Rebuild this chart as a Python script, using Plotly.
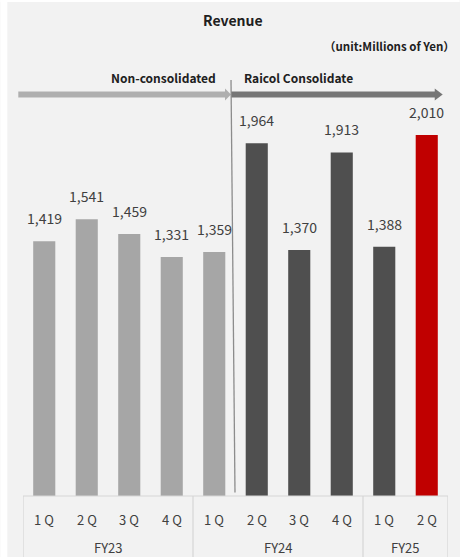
import plotly.graph_objects as go

quarters = ["1 Q", "2 Q", "3 Q", "4 Q", "1 Q", "2 Q", "3 Q", "4 Q", "1 Q", "2 Q"]
fiscal_years = ["FY23", "FY23", "FY23", "FY23", "FY24", "FY24", "FY24", "FY24", "FY25", "FY25"]
revenue = [1419, 1541, 1459, 1331, 1359, 1964, 1370, 1913, 1388, 2010]
bar_colors = ["#A6A6A6"] * 5 + ["#4F4F4F"] * 4 + ["#C00000"]
fy_groups = ["FY23", "FY24", "FY25"]

W, H = 460, 557
ML, MR, MT, MB = 22.7, W - 448.3, 83, 61.4
PW, PH = W - ML - MR, H - MT - MB

def px(x):
    return (x - ML) / PW

def py(y):
    return (H - MB - y) / PH

xs = list(range(len(revenue)))
labels = [f"{v:,}" for v in revenue]
FONT = "Noto Sans CJK JP"

fig = go.Figure()
fig.add_trace(go.Bar(
    x=xs, y=revenue, marker=dict(color=bar_colors, line=dict(width=0)),
    width=0.52, hoverinfo="skip",
))

shapes = []
shapes.append(dict(type="rect", xref="paper", yref="paper", x0=px(0), x1=px(7), y0=py(H), y1=py(0),
                   fillcolor="white", line=dict(width=0), layer="below"))
shapes.append(dict(type="rect", xref="paper", yref="paper", x0=px(0), x1=px(W), y0=py(2), y1=py(0),
                   fillcolor="white", line=dict(width=0), layer="below"))
tbl = "#D6D6D6"
shapes.append(dict(type="line", xref="x", yref="paper", x0=-0.5, x1=len(revenue) - 0.5, y0=0, y1=0,
                   line=dict(color=tbl, width=1.2)))
for b in [-0.5, 3.5, 7.5, len(revenue) - 0.5]:
    shapes.append(dict(type="line", xref="x", yref="paper", x0=b, x1=b, y0=0, y1=py(H),
                       line=dict(color=tbl, width=1.2)))
ay = 94.5
shapes.append(dict(type="line", xref="paper", yref="paper", x0=px(18), x1=px(226), y0=py(ay), y1=py(ay),
                   line=dict(color="#AFAFAF", width=6)))
shapes.append(dict(type="path", xref="paper", yref="paper",
                   path=f"M {px(225)} {py(ay-6)} L {px(231)} {py(ay)} L {px(225)} {py(ay+6)} Z",
                   fillcolor="#AFAFAF", line=dict(width=0)))
shapes.append(dict(type="line", xref="paper", yref="paper", x0=px(231), x1=px(436), y0=py(ay), y1=py(ay),
                   line=dict(color="#767676", width=6)))
shapes.append(dict(type="path", xref="paper", yref="paper",
                   path=f"M {px(435)} {py(ay-6)} L {px(443)} {py(ay)} L {px(435)} {py(ay+6)} Z",
                   fillcolor="#767676", line=dict(width=0)))
shapes.append(dict(type="line", xref="paper", yref="paper", x0=px(231), x1=px(235), y0=py(80), y1=py(492),
                   line=dict(color="#8C8C8C", width=1.3)))

ann = []
for i, (v, t) in enumerate(zip(revenue, labels)):
    ann.append(dict(x=i, y=v, xref="x", yref="y", text=t, showarrow=False,
                    xanchor="center", yanchor="bottom", yshift=11,
                    font=dict(family=FONT, size=14, color="#404040")))
for i, q in enumerate(quarters):
    ann.append(dict(x=i, y=py(519), xref="x", yref="paper", text=q, showarrow=False,
                    xanchor="center", yanchor="middle",
                    font=dict(family=FONT, size=13, color="#404040")))
for fy in fy_groups:
    idx = [i for i, f in enumerate(fiscal_years) if f == fy]
    ann.append(dict(x=(idx[0] + idx[-1]) / 2, y=py(547), xref="x", yref="paper", text=fy, showarrow=False,
                    xanchor="center", yanchor="middle",
                    font=dict(family=FONT, size=13, color="#404040")))
ann.append(dict(x=px(233), y=py(20), xref="paper", yref="paper", text="<b>Revenue</b>", showarrow=False,
                xanchor="center", yanchor="middle",
                font=dict(family=FONT, size=14, color="#202020")))
ann.append(dict(x=px(457), y=py(46), xref="paper", yref="paper", text="<b>（unit:Millions of Yen）</b>",
                showarrow=False, xanchor="right", yanchor="middle",
                font=dict(family=FONT, size=11.5, color="#202020")))
ann.append(dict(x=px(218), y=py(78), xref="paper", yref="paper", text="<b>Non-consolidated</b>",
                showarrow=False, xanchor="right", yanchor="middle",
                font=dict(family=FONT, size=12, color="#202020")))
ann.append(dict(x=px(242), y=py(78), xref="paper", yref="paper", text="<b>Raicol Consolidate</b>",
                showarrow=False, xanchor="left", yanchor="middle",
                font=dict(family=FONT, size=12, color="#202020")))

fig.update_layout(
    width=W, height=H, margin=dict(l=ML, r=MR, t=MT, b=MB),
    paper_bgcolor="#F2F2F2", plot_bgcolor="#F2F2F2",
    showlegend=False, shapes=shapes, annotations=ann,
    xaxis=dict(range=[-0.5, len(revenue) - 0.5], showticklabels=False, showgrid=False,
               zeroline=False, showline=False, fixedrange=True),
    yaxis=dict(range=[0, 2300], visible=False, showgrid=False, fixedrange=True),
    bargap=0.48,
)
fig.write_html("out.html", config={"displayModeBar": False},
               post_script="document.body.style.margin='0';document.body.style.overflow='hidden';")
